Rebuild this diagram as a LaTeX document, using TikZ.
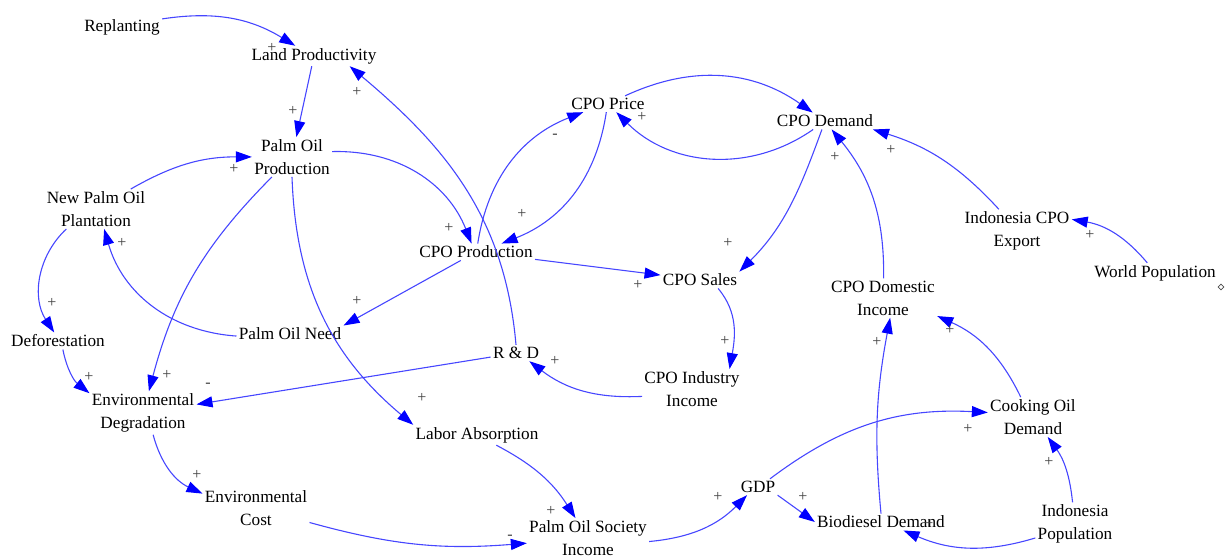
\documentclass[tikz,border=0pt]{standalone}
\usepackage{fontspec}
\setmainfont{Liberation Serif}
\usetikzlibrary{arrows.meta,shapes.geometric}
\definecolor{linkblue}{RGB}{70,70,255}

\begin{document}
\begin{tikzpicture}[x=0.5pt,y=0.5pt,
    var/.style={align=center,inner sep=1pt,font=\fontsize{8.6}{11.5}\selectfont},
    link/.style={draw=linkblue,line width=0.55pt,-{Triangle[length=8pt,width=5.5pt,color=blue]}},
    sign/.style={inner sep=0pt,text=black!75,font=\fontsize{8}{9}\selectfont}]
  \useasboundingbox (0,0) rectangle (1227,-557);

  % variables
  \node[var] (rep) at (122,-27) {Replanting};
  \node[var] (landp) at (314,-56) {Land Productivity};
  \node[var] (pop) at (292,-157) {Palm Oil\\Production};
  \node[var] (npp) at (96,-209) {New Palm Oil\\Plantation};
  \node[var] (price) at (608,-104) {CPO Price};
  \node[var] (demand) at (825,-121) {CPO Demand};
  \node[var] (cpoprod) at (476,-252) {CPO Production};
  \node[var] (sales) at (700,-280) {CPO Sales};
  \node[var] (export) at (1017,-231) {Indonesia CPO\\Export};
  \node[var] (worldpop) at (1155,-273) {World Population};
  \node[var] (domestic) at (883,-298) {CPO Domestic\\Income};
  \node[var] (defor) at (58,-341) {Deforestation};
  \node[var] (need) at (290,-334) {Palm Oil Need};
  \node[var] (rnd) at (516,-353) {R \& D};
  \node[var] (industry) at (692,-389) {CPO Industry\\Income};
  \node[var] (envdeg) at (143,-413) {Environmental\\Degradation};
  \node[var] (labor) at (477,-435) {Labor Absorption};
  \node[var] (cooking) at (1033,-417) {Cooking Oil\\Demand};
  \node[var] (envcost) at (256,-508) {Environmental\\Cost};
  \node[var] (gdp) at (758,-487) {GDP};
  \node[var] (biodiesel) at (881,-522) {Biodiesel Demand};
  \node[var] (society) at (588,-538) {Palm Oil Society\\Income};
  \node[var] (indopop) at (1075,-524) {Indonesia\\Population};
  \node[draw=black!70,diamond,line width=0.3pt,inner sep=0pt,minimum size=3pt] (marker) at (1221,-287) {};

  % links
  \draw[link] (rep) to[bend left=20] (landp);
  \draw[link] (landp) -- (pop);
  \draw[link] (rnd.north) to[out=95,in=-40] (landp.-16);
  \draw[link] (npp) to[bend left=15] (pop);
  \draw[link] (pop) to[bend left=35] (cpoprod);
  \draw[link] (pop) to[bend right=15] (envdeg);
  \draw[link] (pop.south) to[out=-88,in=140] (labor.north west);
  \draw[link] (cpoprod) to[bend left=30] (price);
  \draw[link] (price) to[bend left=30] (cpoprod);
  \draw[link] (price) to[bend left=30] (demand);
  \draw[link] (demand) to[bend left=40] (price);
  \draw[link] (demand) to[out=-110,in=45] (sales.north east);
  \draw[link] (cpoprod) -- (sales);
  \draw[link] (cpoprod) -- (need.north east);
  \draw[link] (need) to[bend left=35] (npp);
  \draw[link] (npp) to[bend right=40] (defor);
  \draw[link] (defor) to[bend right=20] (envdeg);
  \draw[link] (rnd) -- (envdeg);
  \draw[link] (industry) to[bend left=20] (rnd);
  \draw[link] (sales.-25) to[out=-50,in=80] (industry.28);
  \draw[link] (envdeg) to[bend right=25] (envcost);
  \draw[link] (envcost) to[bend right=10] (society);
  \draw[link] (labor) to[bend left=15] (society);
  \draw[link] (society) to[bend right=20] (gdp);
  \draw[link] (gdp.south east) -- (biodiesel.west);
  \draw[link] (gdp) to[bend left=20] (cooking);
  \draw[link] (indopop) to[bend right=15] (cooking);
  \draw[link] (indopop) to[bend left=20] (biodiesel);
  \draw[link] (biodiesel.north) to[bend left=8] (domestic.-70);
  \draw[link] (cooking) to[bend right=20] (domestic);
  \draw[link] (domestic) to[bend right=20] (demand);
  \draw[link] (export) to[bend right=15] (demand.-10);
  \draw[link] (worldpop) to[bend right=20] (export.12);

  % polarities
  \foreach \sx/\sy/\s [count=\i] in {272/48/+,293/111/+,357/92/+,234/169/+,449/228/+,
      167/375/+,422/398/+,555/136/-,522/214/+,642/117/+,728/243/+,638/285/+,
      357/301/+,122/243/+,52/303/+,89/377/+,208/385/-,555/361/+,725/341/+,
      197/475/+,510/537/-,551/511/+,718/497/+,803/497/+,968/429/+,1049/462/+,
      929/524/+,877/342/+,950/330/+,835/157/+,891/150/+,1090/235/+}
    \node[sign] (sign\i) at (\sx,-\sy) {\s};
\end{tikzpicture}
\end{document}
